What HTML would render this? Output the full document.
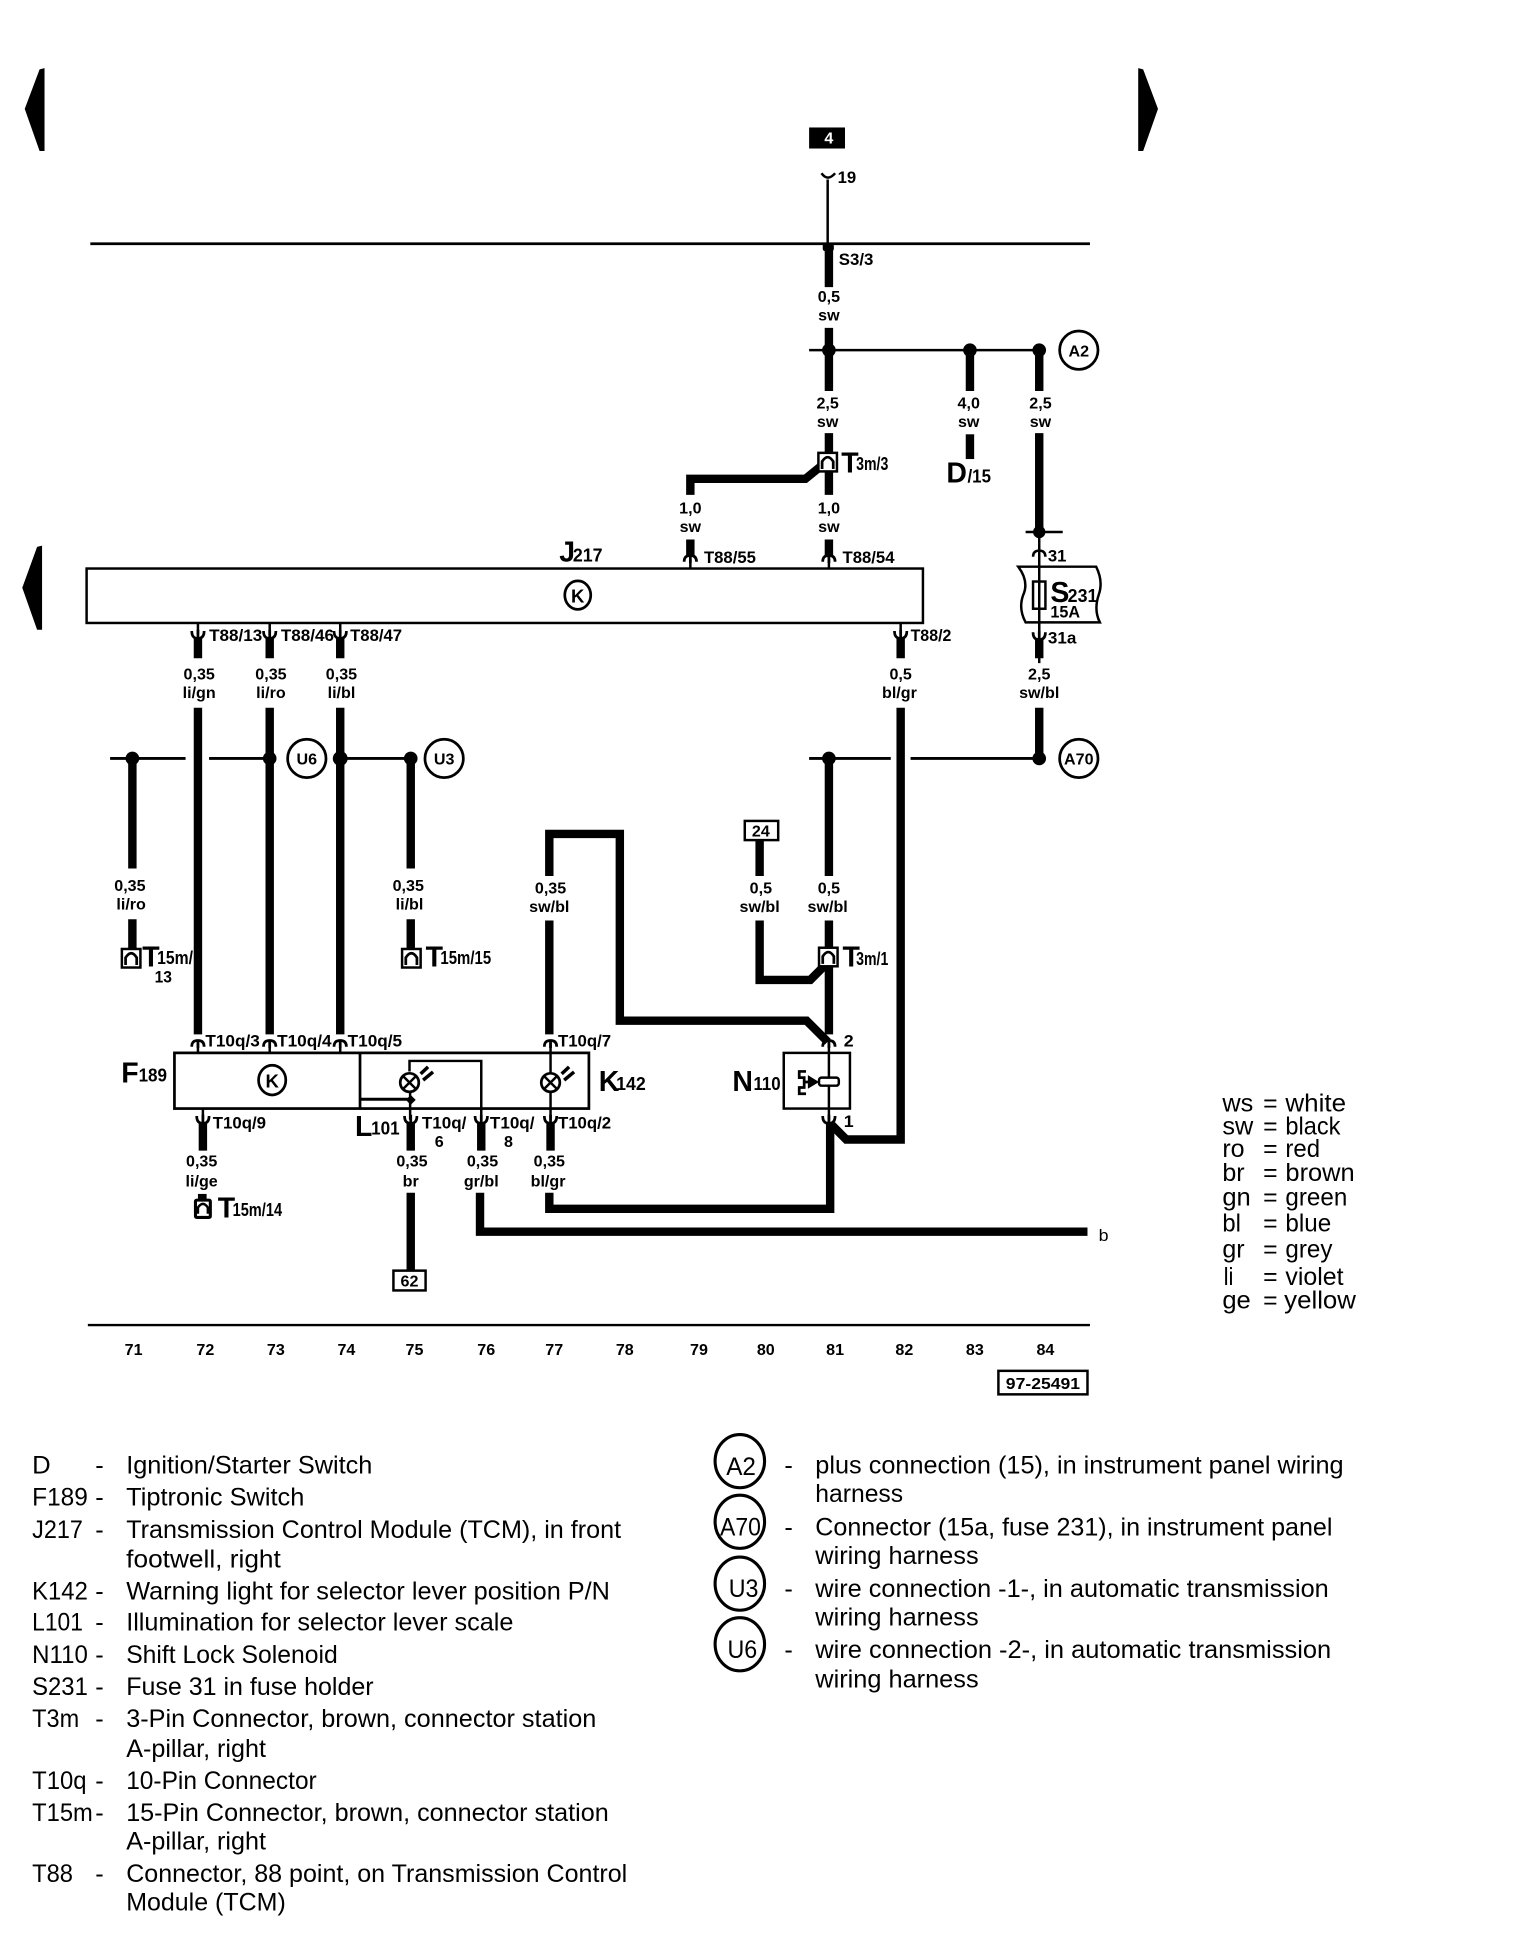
<!DOCTYPE html>
<html><head><meta charset="utf-8"><style>
html,body{margin:0;padding:0;background:#fff}
svg{display:block}
text{font-family:"Liberation Sans",sans-serif;fill:#000}
.l{font-size:13px;font-weight:bold;text-anchor:middle}
.p{font-size:13.5px;font-weight:bold}
.b{font-size:23px;font-weight:bold}
.s{font-size:15px;font-weight:bold}
.n{font-size:13px;font-weight:bold;text-anchor:middle}
.t{font-size:20.5px}
.c{font-size:13px;font-weight:bold;text-anchor:middle}
.w{stroke:#000;stroke-width:6.8;fill:none;stroke-linejoin:miter}
.h{stroke:#000;stroke-width:2;fill:none}
</style></head><body>
<svg width="1520" height="1940" viewBox="0 0 1228.6 1568" xmlns="http://www.w3.org/2000/svg">
<defs>
<path id="u" d="M-5,3 Q-5,-2 0,-2 Q5,-2 5,3 M0,-2 V4" fill="none" stroke="#000" stroke-width="2.2"/>
<path id="d" d="M-5,-3 Q-5,3 0,3 Q5,3 5,-3 M0,3 V-4" fill="none" stroke="#000" stroke-width="2.2"/>
<g id="cn"><rect x="-7.500" y="0" width="15" height="15" fill="#fff" stroke="#000" stroke-width="2"/><path d="M-4.500,13 V7 Q0,0 4.500,7 V13" fill="#fff" stroke="#000" stroke-width="2.200"/></g>
<g id="lamp"><circle r="7.5" fill="#fff" stroke="#000" stroke-width="2.2"/><path d="M-5,-5 L5,5 M-5,5 L5,-5" stroke="#000" stroke-width="2"/><path d="M9,-7 L15,-12.700 M11,-2 L19,-8.600" stroke="#000" stroke-width="2.800"/></g>
</defs>
<rect width="1228.6" height="1568" fill="#fff"/>

<polygon points="36,55 32,56 20,88 32,122 36,122"/>
<polygon points="920,55 924,56 936,88 924,122 920,122"/>
<polygon points="34,441 30,442 18,475 30,509 34,509"/>

<rect x="654" y="103" width="29" height="17"/>
<text x="670" y="116" class="c" style="fill:#fff">4</text>
<path d="M664,140 Q669,147 675,140" class="h"/>
<path d="M669,145 V197" class="h"/>
<text x="677" y="148" class="p" textLength="15" lengthAdjust="spacingAndGlyphs">19</text>

<path d="M73,197 H881" stroke="#000" stroke-width="2.2"/>
<rect x="665" y="197" width="9" height="6" rx="2"/>
<text x="678" y="214" class="p" textLength="28" lengthAdjust="spacingAndGlyphs">S3/3</text>
<path d="M670,200 V232" class="w"/>
<text x="670" y="244" class="l">0,5</text><text x="670" y="259" class="l">sw</text>
<path d="M670,265 V316" class="w"/>
<path d="M654,283 H840" class="h"/>
<circle cx="670" cy="283" r="5.5"/><circle cx="784" cy="283" r="5.5"/><circle cx="840" cy="283" r="5.5"/>
<circle cx="872" cy="283" r="15.5" fill="#fff" stroke="#000" stroke-width="2.2"/>
<text x="872" y="288" class="c">A2</text>
<path d="M784,283 V316 M840,283 V316" class="w"/>
<text x="669" y="330" class="l">2,5</text><text x="669" y="345" class="l">sw</text>
<text x="783" y="330" class="l">4,0</text><text x="783" y="345" class="l">sw</text>
<text x="841" y="330" class="l">2,5</text><text x="841" y="345" class="l">sw</text>
<path d="M670,350 V400" class="w"/>
<path d="M784,351 V371" class="w"/>
<path d="M840,350 V430" class="w"/>
<path d="M558,400 V387 H651 L667,374" class="w"/>
<use href="#cn" x="669" y="366"/>
<text x="680" y="382" class="b">T</text>
<text x="692" y="380" class="s" textLength="26" lengthAdjust="spacingAndGlyphs">3m/3</text>
<text x="765" y="390" class="b">D</text>
<text x="782" y="390" class="s" textLength="19" lengthAdjust="spacingAndGlyphs">/15</text>

<text x="558" y="415" class="l">1,0</text><text x="558" y="430" class="l">sw</text>
<text x="670" y="415" class="l">1,0</text><text x="670" y="430" class="l">sw</text>
<path d="M558,436 V449 M670,436 V449" class="w"/>
<use href="#u" x="558" y="451"/><use href="#u" x="670" y="451"/>
<path d="M558,452 V459 M670,452 V459" class="h"/>
<text x="569" y="455" class="p" textLength="42" lengthAdjust="spacingAndGlyphs">T88/55</text>
<text x="681" y="455" class="p" textLength="42" lengthAdjust="spacingAndGlyphs">T88/54</text>

<text x="452" y="454" class="b">J</text>
<text x="463" y="454" class="s" textLength="24" lengthAdjust="spacingAndGlyphs">217</text>
<rect x="70" y="459.5" width="676" height="44" fill="#fff" stroke="#000" stroke-width="2"/>
<ellipse cx="467" cy="481" rx="10.5" ry="11.5" fill="#fff" stroke="#000" stroke-width="2.2"/>
<text x="467" y="487" class="c" style="font-size:15px">K</text>

<path d="M160,516 V532 M218,516 V532 M275,516 V532 M728,516 V532 M840,516 V532" class="w"/>
<path d="M160,504 V513 M218,504 V513 M275,504 V513 M728,504 V513" class="h"/>
<use href="#d" x="160" y="513"/><use href="#d" x="218" y="513"/><use href="#d" x="275" y="513"/><use href="#d" x="728" y="513"/><use href="#d" x="840" y="514"/>
<text x="169" y="518" class="p" textLength="43" lengthAdjust="spacingAndGlyphs">T88/13</text>
<text x="227" y="518" class="p" textLength="43" lengthAdjust="spacingAndGlyphs">T88/46</text>
<text x="283" y="518" class="p" textLength="42" lengthAdjust="spacingAndGlyphs">T88/47</text>
<text x="736" y="518" class="p" textLength="33" lengthAdjust="spacingAndGlyphs">T88/2</text>
<text x="161" y="549" class="l">0,35</text><text x="161" y="564" class="l">li/gn</text>
<text x="219" y="549" class="l">0,35</text><text x="219" y="564" class="l">li/ro</text>
<text x="276" y="549" class="l">0,35</text><text x="276" y="564" class="l">li/bl</text>
<text x="728" y="549" class="l">0,5</text><text x="727" y="564" class="l">bl/gr</text>
<text x="840" y="549" class="l">2,5</text><text x="840" y="564" class="l">sw/bl</text>

<path d="M829,430 H859" class="h"/>
<circle cx="840" cy="430" r="5"/>
<path d="M840,430 V536" class="h"/>
<path d="M835,450 Q835,445 840,445 Q845,445 845,450" class="h"/>
<text x="847" y="454" class="p" textLength="15" lengthAdjust="spacingAndGlyphs">31</text>
<path d="M823,458 H886 Q892,470 888,481 Q884,493 889,503 H829 Q823,492 827,481 Q832,470 823,458Z" fill="#fff" stroke="#000" stroke-width="2"/>
<rect x="835" y="470" width="10" height="22" fill="#fff" stroke="#000" stroke-width="2"/>
<path d="M840,458 V504" class="h"/>
<text x="849" y="486.500" class="b">S</text>
<text x="863" y="486.500" class="s" textLength="24" lengthAdjust="spacingAndGlyphs">231</text>
<text x="849" y="499" class="p" textLength="24" lengthAdjust="spacingAndGlyphs">15A</text>
<path d="M840,504 V514" class="h"/>
<text x="847" y="520" class="p" textLength="23" lengthAdjust="spacingAndGlyphs">31a</text>

<path d="M160,572 V836 M218,572 V836 M275,572 V836" class="w"/>
<path d="M728,572 V921 H684 L671,908" class="w"/>
<path d="M840,572 V613" class="w"/>
<path d="M89,613 H150 M169,613 H218 M272,613 H332 M654,613 H720 M736,613 H840" stroke="#000" stroke-width="2.4"/>
<circle cx="107" cy="613" r="5.5"/><circle cx="218" cy="613" r="5.5"/><circle cx="275" cy="613" r="6"/><circle cx="332" cy="613" r="5.5"/><circle cx="670" cy="613" r="5.5"/><circle cx="840" cy="613" r="5.5"/>
<circle cx="248" cy="613" r="15.5" fill="#fff" stroke="#000" stroke-width="2.2"/><text x="248" y="618" class="c">U6</text>
<circle cx="359" cy="613" r="15.5" fill="#fff" stroke="#000" stroke-width="2.2"/><text x="359" y="618" class="c">U3</text>
<circle cx="872" cy="613" r="15.5" fill="#fff" stroke="#000" stroke-width="2.2"/><text x="872" y="618" class="c">A70</text>

<path d="M107,613 V702 M332,613 V702" class="w"/>
<text x="105" y="720" class="l">0,35</text><text x="106" y="735" class="l">li/ro</text>
<text x="330" y="720" class="l">0,35</text><text x="331" y="735" class="l">li/bl</text>
<path d="M107,743 V768 M332,743 V768" class="w"/>
<use href="#cn" x="106" y="767"/><use href="#cn" x="332.500" y="767"/>
<text x="115" y="781" class="b">T</text>
<text x="127" y="779" class="s" textLength="29" lengthAdjust="spacingAndGlyphs">15m/</text>
<text x="125" y="794" class="p" textLength="14" lengthAdjust="spacingAndGlyphs">13</text>
<text x="344" y="781" class="b">T</text>
<text x="356" y="779" class="s" textLength="41" lengthAdjust="spacingAndGlyphs">15m/15</text>

<path d="M444,708 V674 H501 V825 H652 L669,842" class="w"/>
<text x="445" y="722" class="l">0,35</text><text x="444" y="737" class="l">sw/bl</text>
<path d="M444,744 V836" class="w"/>
<rect x="602" y="663.500" width="27" height="15.500" fill="#fff" stroke="#000" stroke-width="2"/>
<text x="615" y="676" class="c">24</text>
<path d="M614,679 V708" class="w"/>
<text x="615" y="722" class="l">0,5</text><text x="614" y="737" class="l">sw/bl</text>
<path d="M614,744 V792 H655 L669,778" class="w"/>
<path d="M670,613 V708" class="w"/>
<text x="670" y="722" class="l">0,5</text><text x="669" y="737" class="l">sw/bl</text>
<path d="M670,744 V836" class="w"/>
<use href="#cn" x="669.500" y="766"/>
<text x="681" y="781" class="b">T</text>
<text x="692" y="780" class="s" textLength="26" lengthAdjust="spacingAndGlyphs">3m/1</text>

<rect x="141" y="851" width="335" height="45" fill="#fff" stroke="#000" stroke-width="2.2"/>
<path d="M291,851 V896" stroke="#000" stroke-width="2.2"/>
<ellipse cx="220" cy="873" rx="11" ry="12" fill="#fff" stroke="#000" stroke-width="2.2"/>
<text x="220" y="879" class="c" style="font-size:15px">K</text>
<use href="#u" x="160" y="843"/><use href="#u" x="218" y="843"/><use href="#u" x="275" y="843"/><use href="#u" x="445" y="843"/><use href="#u" x="670" y="843"/>
<path d="M160,843 V851 M218,843 V851 M275,843 V851" class="h"/>
<text x="166" y="846" class="p" textLength="44" lengthAdjust="spacingAndGlyphs">T10q/3</text>
<text x="224" y="846" class="p" textLength="44" lengthAdjust="spacingAndGlyphs">T10q/4</text>
<text x="281" y="846" class="p" textLength="44" lengthAdjust="spacingAndGlyphs">T10q/5</text>
<text x="451" y="846" class="p" textLength="43" lengthAdjust="spacingAndGlyphs">T10q/7</text>
<text x="682" y="846" class="p" textLength="8" lengthAdjust="spacingAndGlyphs">2</text>
<text x="98" y="875" class="b">F</text>
<text x="112" y="874" class="s" textLength="23" lengthAdjust="spacingAndGlyphs">189</text>
<text x="484" y="882" class="b">K</text>
<text x="498" y="881" class="s" textLength="24" lengthAdjust="spacingAndGlyphs">142</text>
<text x="592" y="882" class="b">N</text>
<text x="609" y="881" class="s" textLength="22" lengthAdjust="spacingAndGlyphs">110</text>
<text x="287" y="918" class="b">L</text>
<text x="300" y="917" class="s" textLength="23" lengthAdjust="spacingAndGlyphs">101</text>

<path d="M331,866 V857.500 H389 V905" class="h"/>
<path d="M291,888.500 H331" stroke="#000" stroke-width="2.400"/>
<path d="M331.500,883 V905" class="h"/>
<polygon points="332,885 336,889 332,893 328,889"/>
<use href="#lamp" x="331" y="875"/>
<path d="M445,843 V905" class="h"/>
<use href="#lamp" x="445" y="875"/>

<rect x="633.500" y="851" width="53.500" height="45" fill="#fff" stroke="#000" stroke-width="2"/>
<path d="M670,843 V908" class="h"/>
<rect x="662" y="871" width="16" height="6.500" rx="2" fill="#fff" stroke="#000" stroke-width="2"/>
<polygon points="653,869 662,874.500 653,880"/>
<path d="M651.500,866 H646 V871 H650 V879 H646 V884 H651.500 M650,874.500 H655" fill="none" stroke="#000" stroke-width="2.200"/>

<use href="#d" x="164" y="905"/><use href="#d" x="332" y="905"/><use href="#d" x="389" y="905"/><use href="#d" x="445" y="905"/><use href="#d" x="670" y="905"/>
<path d="M164,896 V905" class="h"/>
<text x="172" y="912" class="p" textLength="43" lengthAdjust="spacingAndGlyphs">T10q/9</text>
<text x="341" y="912" class="p" textLength="36" lengthAdjust="spacingAndGlyphs">T10q/</text>
<text x="355" y="927" class="l">6</text>
<text x="396" y="912" class="p" textLength="36" lengthAdjust="spacingAndGlyphs">T10q/</text>
<text x="411" y="927" class="l">8</text>
<text x="451" y="912" class="p" textLength="43" lengthAdjust="spacingAndGlyphs">T10q/2</text>
<text x="682" y="911" class="p" textLength="8" lengthAdjust="spacingAndGlyphs">1</text>
<path d="M164,908 V930 M332,908 V930 M389,908 V930 M445,908 V930" class="w"/>
<text x="163" y="943" class="l">0,35</text><text x="163" y="959" class="l">li/ge</text>
<text x="333" y="943" class="l">0,35</text><text x="332" y="959" class="l">br</text>
<text x="390" y="943" class="l">0,35</text><text x="389" y="959" class="l">gr/bl</text>
<text x="444" y="943" class="l">0,35</text><text x="443" y="959" class="l">bl/gr</text>
<rect x="160" y="965" width="7" height="5"/>
<rect x="158" y="970" width="12" height="14" rx="1" fill="#fff" stroke="#000" stroke-width="2.5"/>
<path d="M160,981 V976 Q164,970 168,976 V981" fill="none" stroke="#000" stroke-width="2"/>
<text x="176" y="984" class="b">T</text>
<text x="188" y="983" class="s" textLength="40" lengthAdjust="spacingAndGlyphs">15m/14</text>
<path d="M332,964 V1027" class="w"/>
<rect x="318" y="1027" width="26" height="16" fill="#fff" stroke="#000" stroke-width="2"/>
<text x="331" y="1040" class="c">62</text>
<path d="M444,964 V977 H671 V908" class="w"/>
<path d="M388,964 V995.500 H879" class="w"/>
<text x="888" y="1003" class="p" style="font-weight:normal" textLength="8" lengthAdjust="spacingAndGlyphs">b</text>

<path d="M71,1071 H881" stroke="#000" stroke-width="2"/>
<text x="108" y="1095" class="n">71</text><text x="166" y="1095" class="n">72</text><text x="223" y="1095" class="n">73</text><text x="280" y="1095" class="n">74</text><text x="335" y="1095" class="n">75</text><text x="393" y="1095" class="n">76</text><text x="448" y="1095" class="n">77</text><text x="505" y="1095" class="n">78</text><text x="565" y="1095" class="n">79</text><text x="619" y="1095" class="n">80</text><text x="675" y="1095" class="n">81</text><text x="731" y="1095" class="n">82</text><text x="788" y="1095" class="n">83</text><text x="845" y="1095" class="n">84</text>
<rect x="807" y="1108" width="72" height="19" fill="#fff" stroke="#000" stroke-width="2"/>
<text x="843" y="1122.500" class="c" textLength="60" lengthAdjust="spacingAndGlyphs">97-25491</text>

<g class="t" style="font-size:20px">
<text x="988" y="898.500" textLength="25" lengthAdjust="spacingAndGlyphs">ws</text><text x="1021" y="898.500">=</text><text x="1039" y="898.500" textLength="49" lengthAdjust="spacingAndGlyphs">white</text>
<text x="988" y="917" textLength="25" lengthAdjust="spacingAndGlyphs">sw</text><text x="1021" y="917">=</text><text x="1039" y="917" textLength="44.500" lengthAdjust="spacingAndGlyphs">black</text>
<text x="988" y="935" textLength="18" lengthAdjust="spacingAndGlyphs">ro</text><text x="1021" y="935">=</text><text x="1039" y="935" textLength="28" lengthAdjust="spacingAndGlyphs">red</text>
<text x="988" y="954.500" textLength="18" lengthAdjust="spacingAndGlyphs">br</text><text x="1021" y="954.500">=</text><text x="1039" y="954.500" textLength="56" lengthAdjust="spacingAndGlyphs">brown</text>
<text x="988" y="974.500" textLength="23" lengthAdjust="spacingAndGlyphs">gn</text><text x="1021" y="974.500">=</text><text x="1039" y="974.500" textLength="50" lengthAdjust="spacingAndGlyphs">green</text>
<text x="988" y="995.500" textLength="15" lengthAdjust="spacingAndGlyphs">bl</text><text x="1021" y="995.500">=</text><text x="1039" y="995.500" textLength="37" lengthAdjust="spacingAndGlyphs">blue</text>
<text x="988" y="1016.500" textLength="18" lengthAdjust="spacingAndGlyphs">gr</text><text x="1021" y="1016.500">=</text><text x="1039" y="1016.500" textLength="38" lengthAdjust="spacingAndGlyphs">grey</text>
<text x="989" y="1038.500" textLength="8" lengthAdjust="spacingAndGlyphs">li</text><text x="1021" y="1038.500">=</text><text x="1039" y="1038.500" textLength="47" lengthAdjust="spacingAndGlyphs">violet</text>
<text x="988" y="1057.500" textLength="23" lengthAdjust="spacingAndGlyphs">ge</text><text x="1021" y="1057.500">=</text><text x="1038" y="1057.500" textLength="58" lengthAdjust="spacingAndGlyphs">yellow</text>
</g>

<g class="t">
<text x="26" y="1191" textLength="15" lengthAdjust="spacingAndGlyphs">D</text><text x="77" y="1191">-</text><text x="102" y="1191" textLength="199" lengthAdjust="spacingAndGlyphs">Ignition/Starter Switch</text>
<text x="26" y="1217" textLength="45" lengthAdjust="spacingAndGlyphs">F189</text><text x="77" y="1217">-</text><text x="102" y="1217" textLength="144" lengthAdjust="spacingAndGlyphs">Tiptronic Switch</text>
<text x="26" y="1243" textLength="41" lengthAdjust="spacingAndGlyphs">J217</text><text x="77" y="1243">-</text><text x="102" y="1243" textLength="400" lengthAdjust="spacingAndGlyphs">Transmission Control Module (TCM), in front</text>
<text x="102" y="1267" textLength="125" lengthAdjust="spacingAndGlyphs">footwell, right</text>
<text x="26" y="1293" textLength="45" lengthAdjust="spacingAndGlyphs">K142</text><text x="77" y="1293">-</text><text x="102" y="1293" textLength="391" lengthAdjust="spacingAndGlyphs">Warning light for selector lever position P/N</text>
<text x="26" y="1318" textLength="41" lengthAdjust="spacingAndGlyphs">L101</text><text x="77" y="1318">-</text><text x="102" y="1318" textLength="313" lengthAdjust="spacingAndGlyphs">Illumination for selector lever scale</text>
<text x="26" y="1344" textLength="45" lengthAdjust="spacingAndGlyphs">N110</text><text x="77" y="1344">-</text><text x="102" y="1344" textLength="171" lengthAdjust="spacingAndGlyphs">Shift Lock Solenoid</text>
<text x="26" y="1370" textLength="45" lengthAdjust="spacingAndGlyphs">S231</text><text x="77" y="1370">-</text><text x="102" y="1370" textLength="200" lengthAdjust="spacingAndGlyphs">Fuse 31 in fuse holder</text>
<text x="26" y="1396" textLength="38" lengthAdjust="spacingAndGlyphs">T3m</text><text x="77" y="1396">-</text><text x="102" y="1396" textLength="380" lengthAdjust="spacingAndGlyphs">3-Pin Connector, brown, connector station</text>
<text x="102" y="1420" textLength="113" lengthAdjust="spacingAndGlyphs">A-pillar, right</text>
<text x="26" y="1446" textLength="44" lengthAdjust="spacingAndGlyphs">T10q</text><text x="77" y="1446">-</text><text x="102" y="1446" textLength="154" lengthAdjust="spacingAndGlyphs">10-Pin Connector</text>
<text x="26" y="1472" textLength="49" lengthAdjust="spacingAndGlyphs">T15m</text><text x="77" y="1472">-</text><text x="102" y="1472" textLength="390" lengthAdjust="spacingAndGlyphs">15-Pin Connector, brown, connector station</text>
<text x="102" y="1495" textLength="113" lengthAdjust="spacingAndGlyphs">A-pillar, right</text>
<text x="26" y="1521" textLength="33" lengthAdjust="spacingAndGlyphs">T88</text><text x="77" y="1521">-</text><text x="102" y="1521" textLength="405" lengthAdjust="spacingAndGlyphs">Connector, 88 point, on Transmission Control</text>
<text x="102" y="1544" textLength="129" lengthAdjust="spacingAndGlyphs">Module (TCM)</text>

<ellipse cx="598" cy="1181" rx="20" ry="21.500" fill="none" stroke="#000" stroke-width="2.5"/>
<text x="587" y="1192" textLength="24" lengthAdjust="spacingAndGlyphs">A2</text>
<ellipse cx="598" cy="1230" rx="20" ry="21.500" fill="none" stroke="#000" stroke-width="2.5"/>
<text x="582" y="1241" textLength="33" lengthAdjust="spacingAndGlyphs">A70</text>
<ellipse cx="598" cy="1280" rx="20" ry="21.500" fill="none" stroke="#000" stroke-width="2.500"/>
<text x="589" y="1291" textLength="24" lengthAdjust="spacingAndGlyphs">U3</text>
<ellipse cx="598" cy="1329" rx="20" ry="21.500" fill="none" stroke="#000" stroke-width="2.500"/>
<text x="588" y="1340" textLength="24" lengthAdjust="spacingAndGlyphs">U6</text>

<text x="634" y="1191">-</text><text x="659" y="1191" textLength="427" lengthAdjust="spacingAndGlyphs">plus connection (15), in instrument panel wiring</text>
<text x="659" y="1214" textLength="71" lengthAdjust="spacingAndGlyphs">harness</text>
<text x="634" y="1241">-</text><text x="659" y="1241" textLength="418" lengthAdjust="spacingAndGlyphs">Connector (15a, fuse 231), in instrument panel</text>
<text x="659" y="1264" textLength="132" lengthAdjust="spacingAndGlyphs">wiring harness</text>
<text x="634" y="1291">-</text><text x="659" y="1291" textLength="415" lengthAdjust="spacingAndGlyphs">wire connection -1-, in automatic transmission</text>
<text x="659" y="1314" textLength="132" lengthAdjust="spacingAndGlyphs">wiring harness</text>
<text x="634" y="1340">-</text><text x="659" y="1340" textLength="417" lengthAdjust="spacingAndGlyphs">wire connection -2-, in automatic transmission</text>
<text x="659" y="1364" textLength="132" lengthAdjust="spacingAndGlyphs">wiring harness</text>
</g>
</svg>
</body></html>
